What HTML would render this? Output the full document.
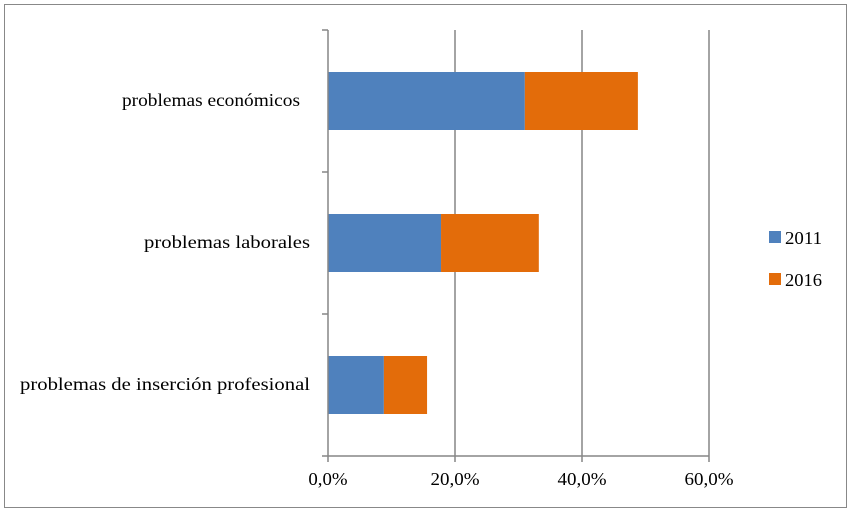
<!DOCTYPE html>
<html><head><meta charset="utf-8">
<style>
html,body{margin:0;padding:0;background:#fff;}
svg{display:block;font-family:"Liberation Serif",serif;}
</style></head>
<body>
<svg id="chart" width="854" height="513">
<rect x="4.5" y="4.5" width="842" height="503" fill="#fff" stroke="#888" stroke-width="1"/>
<g id="grid"></g>
<g id="bars"></g>
<g id="axes"></g>
<g id="legend"></g>
</svg>
<script>
const categories = ["problemas económicos","problemas laborales","problemas de inserción profesional"];
const series2011 = [31.0, 17.8, 8.8];
const series2016 = [17.8, 15.4, 6.8];
const xTicks = [0,20,40,60];
const xTickLabels = ["0,0%","20,0%","40,0%","60,0%"];
const seriesNames = ["2011","2016"];

const NS="http://www.w3.org/2000/svg";
const X0=328, X1=709, Y0=30, Y1=456, XMAX=60;
const colors=["#4f81bd","#e36c0a"];
const x=v=>X0+(v/XMAX)*(X1-X0);
const band=(Y1-Y0)/categories.length;
const yc=i=>Y0+band*(i+0.5);
const barH=58;
function mk(tag,attrs,parent){const e=document.createElementNS(NS,tag);for(const k in attrs)e.setAttribute(k,attrs[k]);parent.appendChild(e);return e;}
const grid=document.getElementById('grid'),bars=document.getElementById('bars'),axes=document.getElementById('axes'),legend=document.getElementById('legend');
xTicks.forEach((t,i)=>{
  if(t>0){const l=mk('line',{x1:x(t),x2:x(t),y1:Y0,y2:Y1,stroke:'#868686','stroke-width':1.5},grid);
  
  }
  const tl=mk('line',{x1:x(t),x2:x(t),y1:Y1,y2:Y1+6,stroke:'#868686','stroke-width':1.5},axes);
  
  
  const lbl=xTickLabels[i];
  const tx=mk('text',{x:x(t),y:Y1+29,'text-anchor':'middle','font-size':18,fill:'#000',textLength:lbl.length*9.8,lengthAdjust:'spacingAndGlyphs'},axes);
  tx.textContent=lbl;
  
  
});
const ax=mk('line',{x1:X0,x2:X0,y1:Y0,y2:Y1,stroke:'#868686','stroke-width':1.5},axes);


const bx=mk('line',{x1:X0,x2:X1,y1:Y1,y2:Y1,stroke:'#868686','stroke-width':1.5},axes);


for(let i=0;i<=categories.length;i++){
  const t=mk('line',{x1:X0-6,x2:X0,y1:Y0+band*i,y2:Y0+band*i,stroke:'#868686','stroke-width':1.5},axes);
  
  
}
const labelRight=[300,310,310];
const labelWidth=[178,166,290];
categories.forEach((c,i)=>{
  const a=series2011[i],b=series2016[i];
  const r1=mk('rect',{x:x(0),y:yc(i)-barH/2,width:x(a)-x(0),height:barH,fill:colors[0]},bars);
  
  
  const r2=mk('rect',{x:x(a),y:yc(i)-barH/2,width:x(a+b)-x(a),height:barH,fill:colors[1]},bars);
  
  
  const t=mk('text',{x:labelRight[i],y:yc(i)+5,'text-anchor':'end','font-size':18,fill:'#000',textLength:labelWidth[i],lengthAdjust:'spacingAndGlyphs'},axes);
  t.textContent=c;
  
  
});
seriesNames.forEach((n,i)=>{
  const y=231+i*42;
  const r=mk('rect',{x:769,y:y,width:12,height:12,fill:colors[i]},legend);
  
  
  const t=mk('text',{x:785,y:y+13,'font-size':18,fill:'#000',textLength:37,lengthAdjust:'spacingAndGlyphs'},legend);
  t.textContent=n;
  
  
});
</script>
</body></html>
